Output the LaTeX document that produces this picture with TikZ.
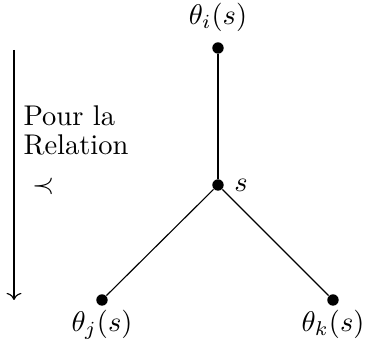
\documentclass[tikz,border=0pt]{standalone}
\usepackage{amsmath}
\usepackage{amssymb}
\usepackage{tikz}
\usetikzlibrary{arrows.meta}
\usetikzlibrary{positioning}
\begin{document}
\begin{tikzpicture}
    [x=0.351pt,y=-0.351pt,
dotnodes/.style={circle, fill=black, inner sep=0pt, minimum size=4pt, label distance=-1.2pt},textnode/.style={inner sep=0pt, align=left}
]
\useasboundingbox (0,0) rectangle (365,341);
\node[dotnodes,label={above:$\theta_i(s)$}](node1) at (218,48){};
\node[dotnodes,label={right:$s$}](node2) at (218,185){};
\node[dotnodes,label={[label distance=-2.2pt]below:$\theta_j(s)$}](node3) at (102,300){};
\node[dotnodes,label={[label distance=-2.2pt]below:$\theta_k(s)$}](node4) at (333,300){};
\coordinate (start) at (14,50);
\coordinate (stop) at (14,300);
\node[textnode,anchor=base west](rel) at (23,194){Pour la\\[-2pt]Relation\\[2pt]\hspace*{3pt}$\prec$};

\draw (node1) -- (node2);
\draw (node2) -- (node3);
\draw (node2) -- (node4);
\draw[->] (start) -- (stop);
\end{tikzpicture}
\end{document}
